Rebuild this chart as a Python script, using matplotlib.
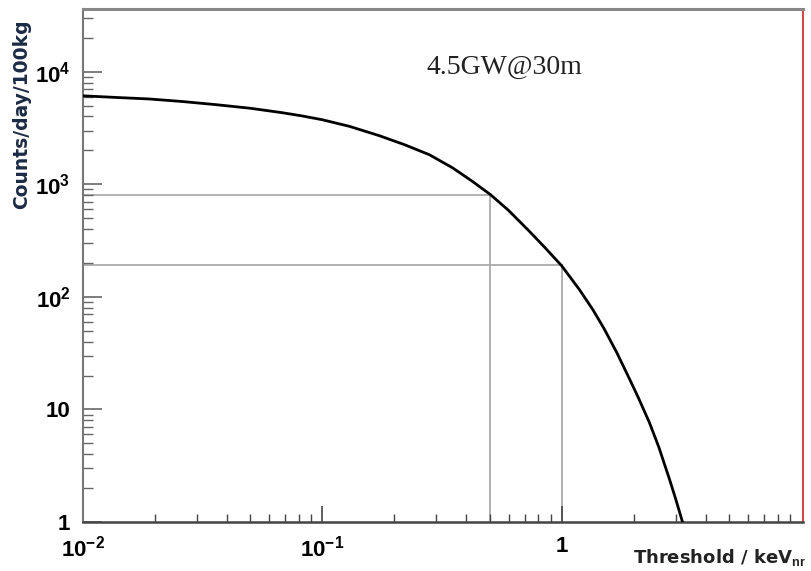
import matplotlib
matplotlib.use("Agg")
import matplotlib.pyplot as plt
from matplotlib.ticker import FixedLocator, LogLocator, NullFormatter

plt.rcParams["mathtext.fontset"] = "custom"
plt.rcParams["mathtext.rm"] = "Liberation Sans:bold"
plt.rcParams["mathtext.it"] = "Liberation Sans:bold"
plt.rcParams["mathtext.bf"] = "Liberation Sans:bold"

# values
threshold = [0.01, 0.014, 0.0189, 0.026, 0.036, 0.05, 0.068, 0.082, 0.1, 0.13,
             0.173, 0.22, 0.28, 0.35, 0.42, 0.505, 0.6, 0.735, 0.85, 1.0,
             1.19, 1.35, 1.5, 1.7, 1.93, 2.1, 2.33, 2.55, 2.83, 3.0, 3.2]
counts = [6100, 5890, 5720, 5430, 5090, 4730, 4320, 4050, 3740, 3265,
          2700, 2250, 1830, 1400, 1075, 807, 586, 380, 275, 189,
          115, 77, 52.8, 32, 18.3, 12.5, 7.6, 4.6, 2.36, 1.59, 1.0]

# guide lines
mark_x = [0.5, 1.0]
mark_y = [800, 190]

xticks = [0.01, 0.1, 1]
xtick_labels = [r"$10^{-2}$", r"$10^{-1}$", "1"]
yticks = [1, 10, 100, 1000, 10000]
ytick_labels = ["1", "10", r"$10^{2}$", r"$10^{3}$", r"$10^{4}$"]

fig = plt.figure(figsize=(8.12, 5.71), dpi=100)
ax = fig.add_axes([0.1022, 0.0858, 0.8867, 0.8984])

xmin, xmax = 0.01, 10.2
ymin, ymax = 1, 36000

for mx, my in zip(mark_x, mark_y):
    ax.plot([xmin, mx], [my, my], color="#aaaaaa", lw=1.3, zorder=1)
    ax.plot([mx, mx], [ymin, my], color="#aaaaaa", lw=1.3, zorder=1)

ax.plot(threshold, counts, color="black", lw=2.0, zorder=3)

ax.set_xscale("log")
ax.set_yscale("log")
ax.set_xlim(xmin, xmax)
ax.set_ylim(ymin, ymax)

ax.xaxis.set_major_locator(FixedLocator(xticks))
ax.set_xticklabels(xtick_labels)
ax.xaxis.set_minor_locator(LogLocator(base=10, subs=range(2, 10)))
ax.xaxis.set_minor_formatter(NullFormatter())
ax.yaxis.set_major_locator(FixedLocator(yticks))
ax.set_yticklabels(ytick_labels)
ax.yaxis.set_minor_locator(LogLocator(base=10, subs=range(2, 10)))
ax.yaxis.set_minor_formatter(NullFormatter())

for lab in ax.get_xticklabels() + ax.get_yticklabels():
    lab.set_fontfamily("Liberation Sans")
    lab.set_fontweight("bold")
    lab.set_fontsize(16)

ax.tick_params(axis="x", which="major", direction="in", length=11.5, width=1.2,
               color="#444444", pad=10)
ax.tick_params(axis="x", which="minor", direction="in", length=5.8, width=1.0,
               color="#444444")
ax.tick_params(axis="y", which="major", direction="in", length=14, width=1.2,
               color="#666666", pad=9)
ax.tick_params(axis="y", which="minor", direction="in", length=7, width=1.0,
               color="#666666")

ax.spines["left"].set_color("#777777")
ax.spines["left"].set_linewidth(1.5)
ax.spines["bottom"].set_color("#444444")
ax.spines["bottom"].set_linewidth(1.8)
ax.spines["top"].set_color("#888888")
ax.spines["top"].set_linewidth(2.2)
ax.spines["right"].set_color("#cc2222")
ax.spines["right"].set_linewidth(1.2)

ax.text(0.586, 0.887, "4.5GW@30m", transform=ax.transAxes, ha="center", va="center",
        fontsize=20, family="Liberation Serif", color="#222222")

fig.text(0.027, 0.80, "Counts/day/100kg", rotation=90, ha="center", va="center",
         fontsize=13.5, fontweight="bold", color="#1c2b45", family="DejaVu Sans")
fig.text(0.992, 0.024, r"Threshold / keV$_{\mathrm{nr}}$", ha="right", va="center",
         fontsize=13, fontweight="bold", color="#222222", family="DejaVu Sans")

fig.savefig("out.png", dpi=100, facecolor="white")
